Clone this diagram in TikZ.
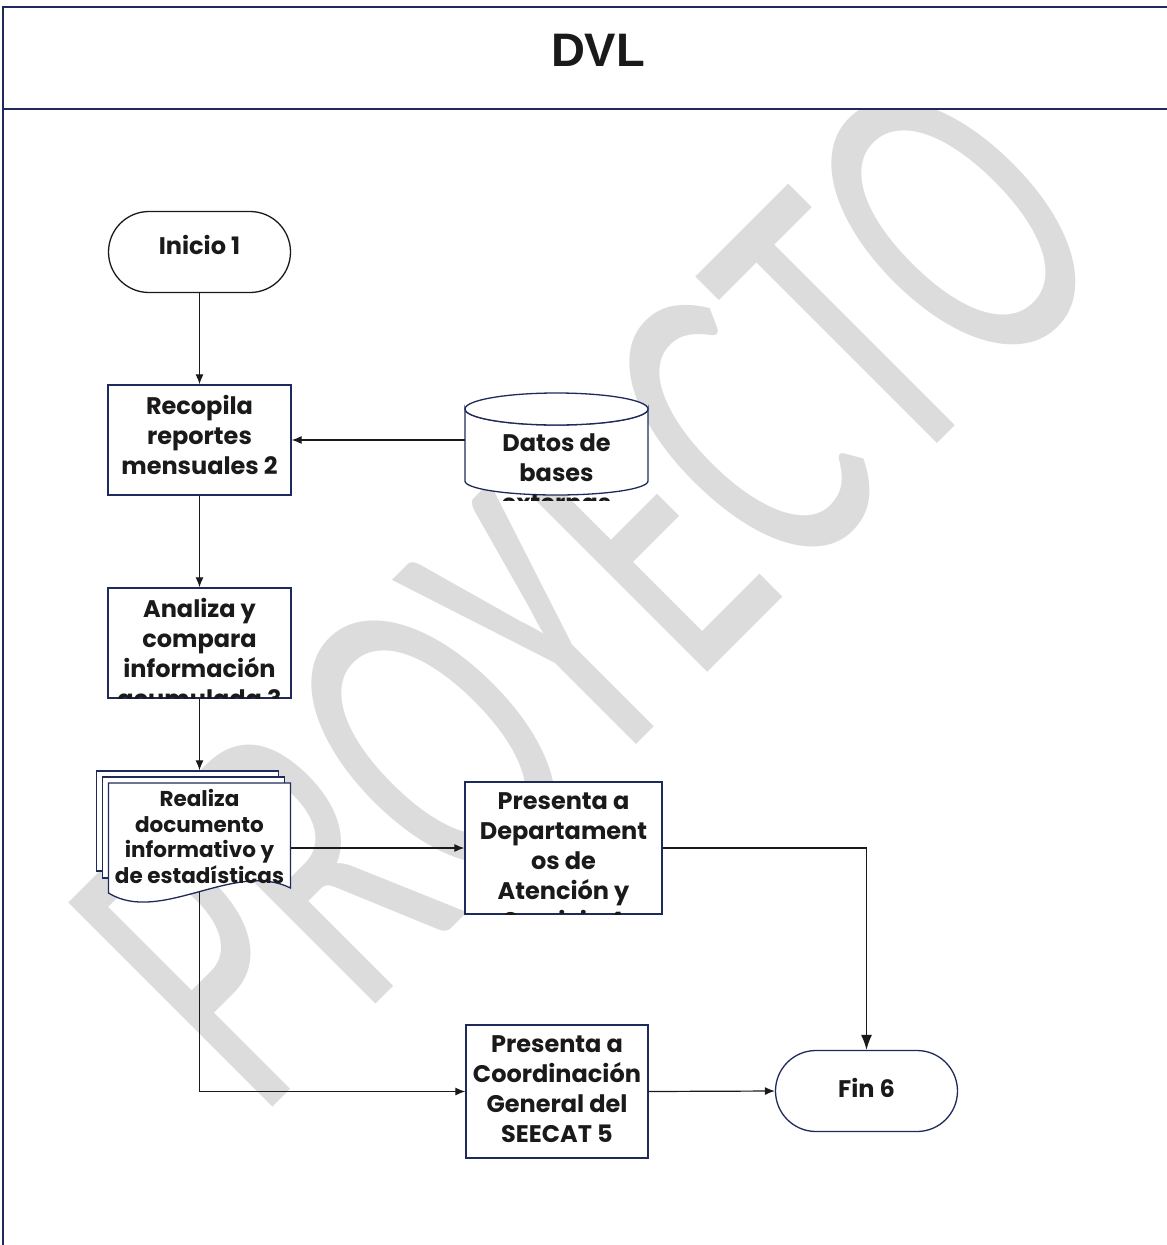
\documentclass[tikz,border=0pt]{standalone}
\usepackage{fontspec}
\setmainfont{Poppins}
\newfontfamily\wmfont{Carlito}
\newfontfamily\titlefont{Liberation Sans}
\usetikzlibrary{shapes.misc,arrows.meta}

\definecolor{navy}{HTML}{1F2A5C}
\definecolor{ink}{HTML}{1A1A1A}
\definecolor{wmgray}{HTML}{DCDCDC}

\tikzset{
  frameline/.style={draw=navy, line width=1.6pt},
  procbox/.style={draw=navy, line width=1.3pt, fill=white, rectangle, inner sep=0pt},
  termbox/.style={draw=#1, line width=1.3pt, fill=white, rounded rectangle, inner sep=0pt,
                  minimum width=182pt, minimum height=81pt},
  shapeline/.style={draw=navy, line width=1.3pt, fill=white},
  ghost/.style={rectangle, inner sep=0pt},
  txt/.style={font=\fontsize{24}{30}\selectfont\bfseries, text=ink, align=center, inner sep=0pt},
  smalltxt/.style={font=\fontsize{21.5}{25.7}\selectfont\bfseries, text=ink, align=center, inner sep=0pt},
  conn/.style={draw=ink, line width=1.2pt, -{Latex[length=10pt,width=8pt]}},
  bigtip/.style={-{Latex[length=15pt,width=11pt]}},
}

\begin{document}
\begin{tikzpicture}[x=1pt,y=-1pt]
\useasboundingbox (0,0) rectangle (1167,1245);
\fill[white] (0,0) rectangle (1167,1245);

% watermark behind the body
\begin{scope}
  \clip (4,110) rectangle (1167,1245);
  \node[text=wmgray, rotate=45, inner sep=0pt] (wm) at (588,588)
    {\scalebox{0.63}[1]{\wmfont\fontsize{450}{450}\selectfont PROYECTO}};
\end{scope}

% page frame and header
\draw[frameline] (3,1250) -- (3,7) -- (1172,7);
\draw[frameline] (3,109) -- (1172,109);
\node[font=\titlefont\bfseries\fontsize{47}{47}\selectfont, text=ink, inner sep=0pt] (title) at (598,50) {DVL};

% shapes
\node[termbox=ink] (ini) at (199.5,252) {};
\node[procbox, minimum width=183pt, minimum height=110pt] (s2) at (199.5,440) {};
\node[procbox, minimum width=183pt, minimum height=110pt] (s3) at (199.5,643) {};
\node[procbox, minimum width=197pt, minimum height=132pt] (s4) at (563.5,848) {};
\node[procbox, minimum width=182pt, minimum height=133pt] (s5) at (557,1091.5) {};
\node[termbox=navy] (fin) at (866.5,1091) {};

% data store (cylinder)
\node[ghost, minimum width=183pt, minimum height=104pt] (cyl) at (556.5,445) {};
\draw[shapeline] (465,409) -- (465,481) arc[start angle=180, end angle=360, x radius=91.5, y radius=-14]
  -- (648,409) arc[start angle=0, end angle=180, x radius=91.5, y radius=16] -- cycle;
\draw[shapeline] (556.5,409) ellipse[x radius=91.5, y radius=16];

% stacked documents
\node[procbox, minimum width=182pt, minimum height=100pt] (docA) at (187.5,821) {};
\node[procbox, minimum width=182pt, minimum height=101pt] (docB) at (193.5,827.5) {};
\node[ghost, minimum width=182pt, minimum height=109pt] (doc) at (199.5,837.5) {};
\draw[shapeline] (108.5,783) -- (290.5,783) -- (290.5,888)
  .. controls (235,860) and (160,925) .. (108.5,893) -- cycle;

% texts
\node[txt] (t1) at (199.5,245) {Inicio 1};
\node[txt, anchor=north] (t2) at (199.5,395) {Recopila\\reportes\\mensuales 2};
\begin{scope}
  \clip (108,588) rectangle (291,698);
  \node[txt, anchor=north] (t3) at (199.5,598) {Analiza y\\compara\\información\\acumulada 3};
\end{scope}
\begin{scope}
  \clip (465,393) rectangle (648,500);
  \node[txt, anchor=north] (tc) at (556.5,434) {Datos de\\bases\\externas};
\end{scope}
\begin{scope}
  \clip (108,783) rectangle (290,884);
  \node[smalltxt, anchor=north] (td) at (199.5,789) {Realiza\\documento\\informativo y\\de estadísticas};
\end{scope}
\begin{scope}
  \clip (465,782) rectangle (662,914);
  \node[txt, anchor=north] (t4) at (563.5,792) {Presenta a\\Departament\\os de\\Atención y\\Servicio 4};
\end{scope}
\node[txt, anchor=north] (t5) at (557,1035) {Presenta a\\Coordinación\\General del\\SEECAT 5};
\node[txt] (t6) at (866.5,1088) {Fin 6};

% connectors
\draw[conn] (ini.south) -- (s2.north);
\draw[conn] (cyl.west |- s2.east) -- (s2.east);
\draw[conn] (s2.south) -- (s3.north);
\draw[conn] (s3.south) -- (s3.south |- docA.north);
\draw[conn] (doc.east |- s4.west) -- (s4.west);
\draw[conn, bigtip] (s4.east) -| (fin.north);
\draw[conn] (doc.south) |- (s5.west);
\draw[conn] (s5.east) -- (fin.west);
\end{tikzpicture}
\end{document}
